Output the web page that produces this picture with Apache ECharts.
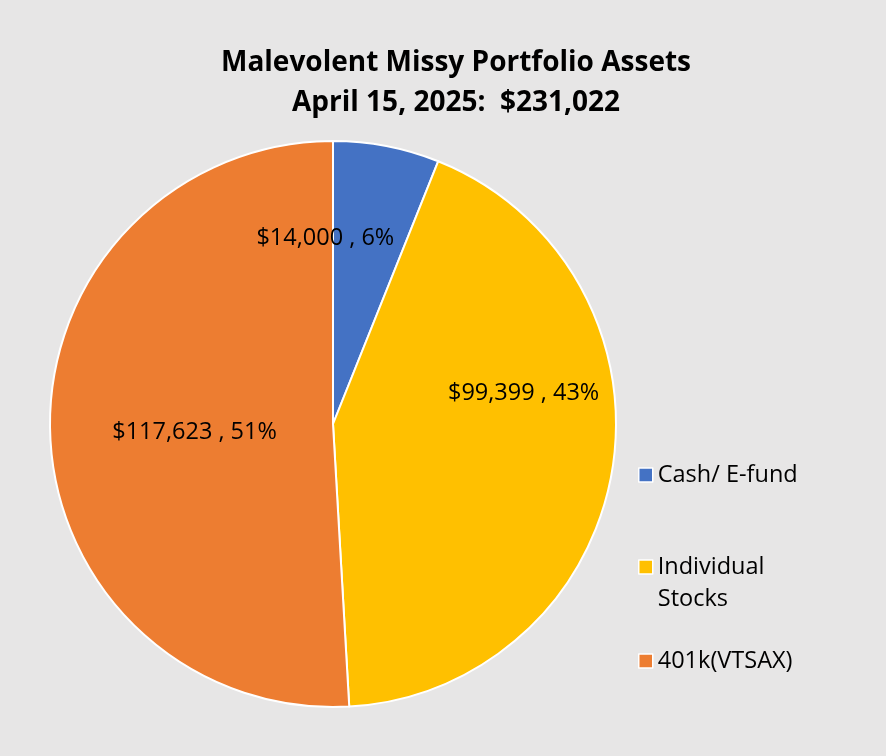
<!DOCTYPE html>
<html>
<head>
<meta charset="utf-8">
<style>
  html, body { margin: 0; padding: 0; background: #e7e6e6; }
  #main { width: 886px; height: 756px; }
</style>
<script src="https://cdn.jsdelivr.net/npm/echarts@6/dist/echarts.min.js"></script>
</head>
<body>
<div id="main"></div>
<script>
var names = ['Cash/ E-fund', 'Individual Stocks', '401k(VTSAX)'];
var values = [14000, 99399, 117623];
var colors = ['#4472c4', '#ffc000', '#ed7d31'];
// nudges from the 'inside' spot to where the labels sit in the picture
var labelOffsets = [[-35, -44], [48, -54], [6, 4]];

var total = 0;
for (var i = 0; i < values.length; i++) total += values[i];

function money(v) {
    return '$' + v.toString().replace(/\B(?=(\d{3})+(?!\d))/g, ',');
}

var pieData = [];
for (var i = 0; i < names.length; i++) {
    pieData.push({
        name: names[i],
        value: values[i],
        itemStyle: {color: colors[i]},
        label: {offset: labelOffsets[i]}
    });
}

var font = 'Open Sans';
var square = 'path://M0,0L12,0L12,12L0,12Z';
// tall box with the square at its top, so the marker sits beside the first line
var squareTop = 'path://M0,0L12,0L12,12L0,12ZM0,39.4L0.01,39.4';

function legendFor(idx, top, icon, h) {
    return {
        orient: 'vertical',
        left: 638,
        top: top,
        padding: 0,
        itemWidth: 14,
        itemHeight: h,
        itemGap: 0,
        selectedMode: false,
        icon: icon,
        itemStyle: {borderColor: '#ffffff', borderWidth: 1.5},
        data: [names[idx]],
        formatter: function (n) {
            return n === 'Individual Stocks' ? 'Individual\nStocks' : n;
        },
        textStyle: {fontFamily: font, fontSize: 23.5, color: '#000', lineHeight: 32}
    };
}

var chart = echarts.init(document.getElementById('main'));
chart.setOption({
    backgroundColor: '#e7e6e6',
    title: {
        text: 'Malevolent Missy Portfolio Assets\nApril 15, 2025:  ' + money(total),
        left: 451,
        textAlign: 'center',
        top: 38,
        textStyle: {fontFamily: font, fontSize: 28, fontWeight: 'bold', color: '#000', lineHeight: 40}
    },
    legend: [
        legendFor(0, 459, square, 14),
        legendFor(1, 551, squareTop, 46),
        legendFor(2, 645, square, 14)
    ],
    series: [{
        type: 'pie',
        center: [333, 424],
        radius: 283,
        startAngle: 90,
        clockwise: true,
        avoidLabelOverlap: false,
        itemStyle: {borderColor: '#ffffff', borderWidth: 2},
        label: {
            show: true,
            position: 'inside',
            fontFamily: font,
            fontSize: 23.5,
            color: '#000',
            formatter: function (p) {
                return money(p.value) + ' , ' + Math.round(p.value / total * 100) + '%';
            }
        },
        labelLine: {show: false},
        emphasis: {disabled: true},
        data: pieData
    }]
});
</script>
</body>
</html>
